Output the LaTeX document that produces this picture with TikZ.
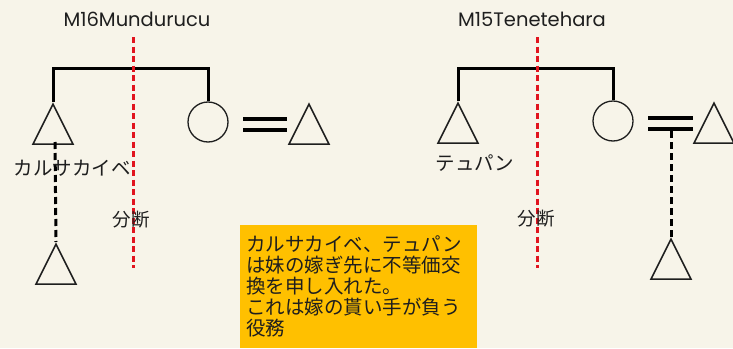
\documentclass[tikz,border=0pt]{standalone}
\usepackage{fontspec}
\setmainfont{Poppins}
\newfontfamily\jp{Noto Sans CJK JP}
\usetikzlibrary{shapes.geometric}
\definecolor{bg}{RGB}{247,244,233}
\definecolor{boxy}{RGB}{255,192,0}
\definecolor{cutred}{RGB}{225,20,30}
\definecolor{ink}{RGB}{30,30,30}
\tikzset{
  tri/.style={draw=ink, line width=1.6pt, isosceles triangle, isosceles triangle stretches,
    shape border rotate=90, minimum width=40pt, minimum height=40pt, inner sep=0pt, anchor=apex},
  fem/.style={draw=ink, line width=1.3pt, circle, minimum size=40pt, inner sep=0pt},
  bar/.style={draw=black, line width=3pt},
  eq/.style={draw=black, line width=4pt},
  cut/.style={draw=cutred, line width=3pt, dash pattern=on 6pt off 3.5pt},
  link/.style={draw=black, line width=3pt, dash pattern=on 7pt off 4pt},
  title/.style={font=\fontsize{19.5}{22}\selectfont, text=ink},
  jlab/.style={font=\jp\fontsize{18.5}{20}\selectfont, text=ink, inner sep=0pt},
}
\begin{document}
\begin{tikzpicture}[x=1pt,y=-1pt]
\fill[bg] (0,0) rectangle (733,348);
\useasboundingbox (0,0) rectangle (733,348);
% ---------- left: Mundurucu ----------
\node[title] (t16) at (137,19) {M16Mundurucu};
\node[tri] (a1) at (53,102) {};
\node[fem] (c1) at (208,122) {};
\node[tri] (a2) at (309,102) {};
\node[tri] (a3) at (56,242) {};
\coordinate (bar1) at (53,68);
\draw[bar] (a1.apex) -- (bar1) -| (c1.north);
\coordinate (e1a) at (243,119); \coordinate (e1b) at (287,119);
\coordinate (e1c) at (243,130); \coordinate (e1d) at (287,130);
\draw[eq] (e1a) -- (e1b);
\draw[eq] (e1c) -- (e1d);
\coordinate (d1top) at (55,142);
\draw[link] (d1top) -- (a3.apex);
\coordinate (r1top) at (133,37); \coordinate (r1bot) at (133,268);
\draw[cut] (r1top) -- (r1bot);
\node[jlab, font=\jp\fontsize{19.5}{20}\selectfont] (n1) at (72,168) {カルサカイベ};
\node[jlab] (s1) at (131,220) {分断};
% ---------- right: Tenetehara ----------
\node[title] (t15) at (532,19) {M15Tenetehara};
\node[tri] (b1) at (458,101) {};
\node[fem] (c2) at (613,121) {};
\node[tri] (b2) at (714,101) {};
\node[tri] (b3) at (671,237) {};
\coordinate (bar2) at (458,68);
\draw[bar] (b1.apex) -- (bar2) -| (c2.north);
\coordinate (e2a) at (648,118); \coordinate (e2b) at (693,118);
\coordinate (e2c) at (648,129); \coordinate (e2d) at (693,129);
\draw[eq] (e2a) -- (e2b);
\draw[eq] (e2c) -- (e2d);
\coordinate (d2top) at (671,131);
\draw[link] (d2top) -- (b3.apex);
\coordinate (r2top) at (537,37); \coordinate (r2bot) at (537,268);
\draw[cut] (r2top) -- (r2bot);
\node[jlab, font=\jp\fontsize{19.5}{20}\selectfont] (n2) at (475,163) {テュパン};
\node[jlab] (s2) at (536,219) {分断};
% ---------- note box ----------
\node[fill=boxy, anchor=north west, minimum width=237pt, minimum height=123pt,
      inner xsep=6pt, inner ysep=3pt, text width=225pt, align=left,
      font=\jp\fontsize{19.5}{21}\selectfont, text=ink] (note) at (240,225)
  {カルサカイベ、テュパン\\は妹の嫁ぎ先に不等価交\\換を申し入れた。\\これは嫁の貰い手が負う\\役務};
\end{tikzpicture}
\end{document}
